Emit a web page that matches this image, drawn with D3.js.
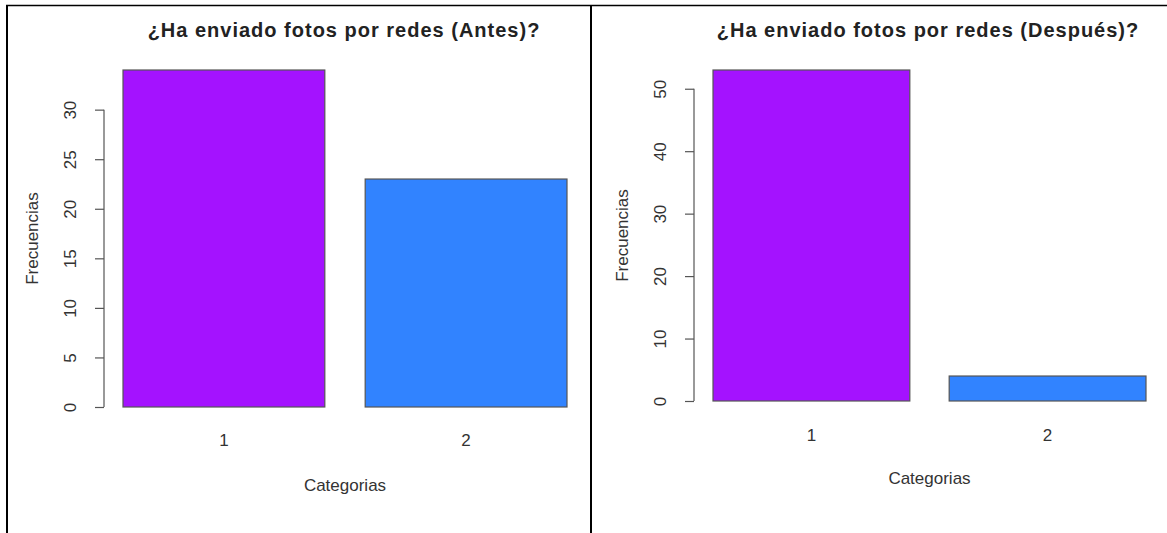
<!DOCTYPE html>
<html><head><meta charset="utf-8">
<script src="https://cdn.jsdelivr.net/npm/d3@7"></script>
<style>body{margin:0;background:#fff}svg{display:block}</style>
</head><body>
<svg id="c" width="1167" height="533"></svg>
<script>
const categories = ["1", "2"];
const valuesAntes = [34, 23];
const valuesDespues = [53, 4];
const ticksAntes = [0, 5, 10, 15, 20, 25, 30];
const ticksDespues = [0, 10, 20, 30, 40, 50];
const colors = ["#A412FF", "#3183FF"];
const titles = ["¿Ha enviado fotos por redes (Antes)?", "¿Ha enviado fotos por redes (Después)?"];
const xTitle = "Categorias";
const yTitle = "Frecuencias";

const svg = d3.select("#c");
const font = "'Liberation Sans', Arial, Helvetica, sans-serif";

// table borders
svg.append("line").attr("x1",6).attr("x2",1167).attr("y1",5.5).attr("y2",5.5).attr("stroke","#000").attr("stroke-width",1.5);
svg.append("line").attr("x1",7).attr("x2",7).attr("y1",5).attr("y2",533).attr("stroke","#000").attr("stroke-width",2);
svg.append("line").attr("x1",591).attr("x2",591).attr("y1",5).attr("y2",533).attr("stroke","#000").attr("stroke-width",2);

const panels = [
  {values: valuesAntes, ticks: ticksAntes, title: titles[0], xr:[123,567], yr:[407,70], ymax:34, axisX:104, titleX:344, catY:446, xtY:491},
  {values: valuesDespues, ticks: ticksDespues, title: titles[1], xr:[713,1146], yr:[401,70], ymax:53, axisX:694, titleX:928, catY:441, xtY:484}
];

panels.forEach(p => {
  const g = svg.append("g");
  const x = d3.scaleLinear().domain([0.2, 2.4]).range(p.xr);
  const y = d3.scaleLinear().domain([0, p.ymax]).range(p.yr);
  const bars = p.values.map((v,i)=>({v, i, x0: 0.2 + i*1.2, x1: 1.2 + i*1.2}));
  g.selectAll("rect").data(bars).join("rect")
    .attr("x", d=>x(d.x0)).attr("width", d=>x(d.x1)-x(d.x0))
    .attr("y", d=>y(d.v)).attr("height", d=>y(0)-y(d.v))
    .attr("fill", d=>colors[d.i]).attr("stroke","#555").attr("stroke-width",1.2);
  // y axis
  const ax = d3.axisLeft(y).tickValues(p.ticks).tickSize(9).tickSizeOuter(0).tickFormat(d3.format("d"));
  const ag = g.append("g").attr("transform",`translate(${p.axisX},0)`).call(ax);
  ag.select(".domain").attr("d", `M0,${y(0)}V${y(d3.max(p.ticks))}`).attr("stroke","#555").attr("stroke-width",1.2);
  ag.selectAll(".tick line").attr("stroke","#555").attr("stroke-width",1.2);
  ag.selectAll(".tick text").attr("transform","rotate(-90)").attr("x",0).attr("y",-28)
    .attr("text-anchor","middle").attr("dy","0").attr("font-size",17).attr("font-family",font).attr("fill","#333");
  // categories
  g.selectAll(".cat").data(bars).join("text").attr("class","cat")
    .attr("x", d=>x((d.x0+d.x1)/2)).attr("y", p.catY).attr("text-anchor","middle")
    .attr("font-size",17).attr("font-family",font).attr("fill","#333").text(d=>categories[d.i]);
  // titles
  g.append("text").attr("x", p.titleX).attr("y", 37).attr("text-anchor","middle")
    .attr("font-size",20).attr("letter-spacing","1px").attr("font-weight","bold").attr("font-family",font).attr("fill","#222").text(p.title);
  g.append("text").attr("x", (p.xr[0]+p.xr[1])/2).attr("y", p.xtY).attr("text-anchor","middle")
    .attr("font-size",17).attr("font-family",font).attr("fill","#333").text(xTitle);
  g.append("text").attr("transform",`translate(${p.axisX-66},${(y(0)+p.yr[1])/2}) rotate(-90)`).attr("text-anchor","middle")
    .attr("font-size",17).attr("font-family",font).attr("fill","#333").text(yTitle);
});
</script>
</body></html>
